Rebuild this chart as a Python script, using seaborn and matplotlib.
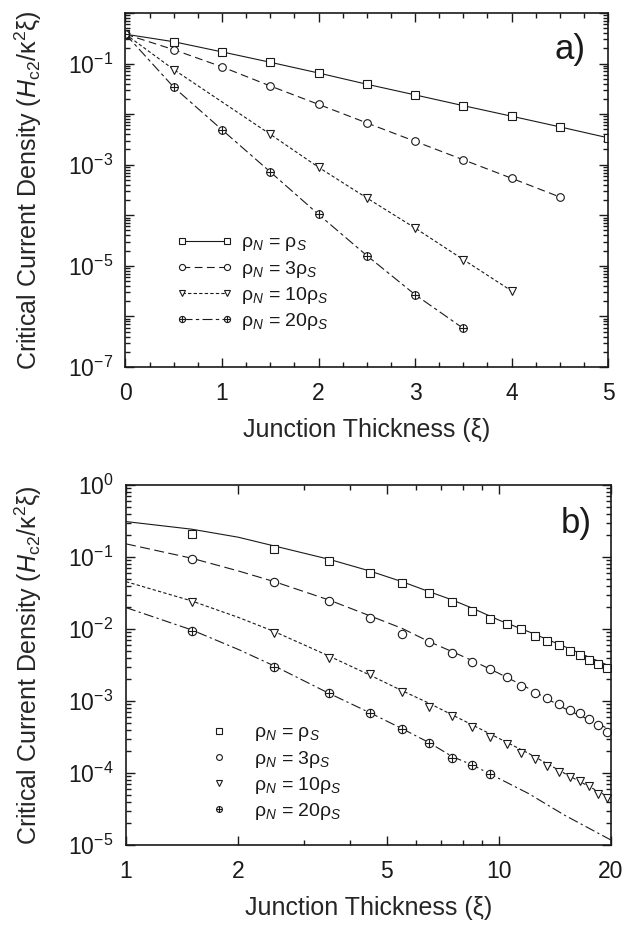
import numpy as np
import pandas as pd
import matplotlib
matplotlib.use("Agg")
import matplotlib.pyplot as plt
import seaborn as sns
from matplotlib.path import Path
from matplotlib.ticker import FixedLocator, MultipleLocator, FuncFormatter, LogLocator, NullFormatter, FixedFormatter

# ---------------- data: panel a (linear x, log y) ----------------
a_x_1 = [0, 0.5, 1, 1.5, 2, 2.5, 3, 3.5, 4, 4.5, 5]
a_y_1 = [0.38, 0.27, 0.17, 0.106, 0.065, 0.039, 0.024, 0.0147, 0.0091, 0.0056, 0.0034]
a_x_3 = [0, 0.5, 1, 1.5, 2, 2.5, 3, 3.5, 4, 4.5]
a_y_3 = [0.38, 0.188, 0.086, 0.036, 0.0156, 0.0067, 0.0029, 0.00125, 0.00054, 0.00023]
a_x_10 = [0, 0.5, 1.5, 2, 2.5, 3, 3.5, 4]
a_y_10 = [0.38, 0.076, 0.0040, 0.00089, 0.00022, 5.6e-5, 1.33e-5, 3.2e-6]
a_x_20 = [0, 0.5, 1, 1.5, 2, 2.5, 3, 3.5]
a_y_20 = [0.38, 0.034, 0.0049, 0.00072, 1.04e-4, 1.6e-5, 2.7e-6, 5.8e-7]

# ---------------- data: panel b (log x, log y) ----------------
b_x_pts = [1.5, 2.5, 3.5, 4.5, 5.5, 6.5, 7.5, 8.5, 9.5, 10.5, 11.5, 12.5,
           13.5, 14.5, 15.5, 16.5, 17.5, 18.5, 19.5]
b_y_pts_1 = [0.210, 0.129, 0.088, 0.059, 0.044, 0.0313, 0.0235, 0.018, 0.0138,
             0.0119, 0.0099, 0.0079, 0.0068, 0.0059, 0.0049, 0.0044, 0.0037,
             0.0033, 0.0029]
b_y_pts_3 = [0.094, 0.0445, 0.0248, 0.0142, 0.0086, 0.0065, 0.0047, 0.0035,
             0.0028, 0.00213, 0.0016, 0.00128, 0.00109, 0.00091, 0.00075,
             0.00067, 0.00056, 0.00046, 0.00037]
b_y_pts_10 = [0.024, 0.0089, 0.0040, 0.00235, 0.00132, 0.00083, 0.000625,
              0.00043, 0.00032, 0.00025, 0.00019, 0.000155, 0.000125,
              0.000102, 8.9e-5, 7.7e-5, 6.5e-5, 5.06e-5, 4.45e-5]
b_x_pts_20 = [1.5, 2.5, 3.5, 4.5, 5.5, 6.5, 7.5, 8.5, 9.5]
b_y_pts_20 = [0.0095, 0.0030, 0.00128, 0.00069, 0.00041, 0.000258, 0.000163,
              0.000129, 9.8e-5]

b_x_curve = [1, 1.5, 2, 2.5, 3.5, 4.5, 5.5, 6.5, 7.5, 8.5, 10, 12, 15, 20]
b_y_curve_1 = [0.31, 0.243, 0.188, 0.142, 0.093, 0.064, 0.0454, 0.033, 0.0253,
               0.0194, 0.0133, 0.0092, 0.0057, 0.0030]
b_y_curve_3 = [0.152, 0.096, 0.064, 0.0454, 0.0253, 0.0153, 0.0102, 0.00667,
               0.00484, 0.00363, 0.00242, 0.0015, 0.00079, 0.000395]
b_y_curve_10 = [0.0454, 0.0245, 0.0145, 0.0092, 0.00422, 0.0023, 0.00139,
                0.00093, 0.00064, 0.000464, 0.000303, 0.000188, 9.9e-5, 4.45e-5]
b_y_curve_20 = [0.0198, 0.0097, 0.0052, 0.00306, 0.00128, 0.00069, 0.000413,
                0.000264, 0.000169, 0.000129, 8.4e-5, 5.2e-5, 2.6e-5, 1.17e-5]

labels = ["ρ$_N$ = ρ$_S$", "ρ$_N$ = 3ρ$_S$", "ρ$_N$ = 10ρ$_S$", "ρ$_N$ = 20ρ$_S$"]
ylabel = "Critical Current Density ($H_{\\mathrm{c2}}$/κ$^{2}$ξ)"
xlabel = "Junction Thickness (ξ)"

# ---------------- style ----------------
sns.set_theme(style="ticks")
plt.rcParams.update({
    "font.family": ["Liberation Sans", "DejaVu Sans"],
    "mathtext.fontset": "custom",
    "mathtext.rm": "Liberation Sans",
    "mathtext.it": "Liberation Sans:italic",
    "mathtext.bf": "Liberation Sans:bold",
    "axes.linewidth": 1.2,
    "axes.edgecolor": "#1a1a1a",
    "text.color": "#1a1a1a",
    "xtick.color": "#1a1a1a",
    "ytick.color": "#1a1a1a",
})

LC = "#1a1a1a"
circ = Path.unit_circle()
cross = Path([(-1, 0), (1, 0), (0, -1), (0, 1)],
             [Path.MOVETO, Path.LINETO, Path.MOVETO, Path.LINETO])
OPLUS = Path.make_compound_path(circ, cross)

markers = ["s", "o", "v", OPLUS]
styles_a = ["-", (0, (7, 4)), (0, (3, 2)), (0, (9, 3, 3, 3))]
styles_b = ["-", (0, (9, 4)), (0, (3, 2)), (0, (9, 3, 2, 3))]


def style_axes(ax):
    ax.tick_params(which="both", direction="in", top=True, right=True,
                   width=1.0, colors=LC)
    ax.tick_params(which="major", length=6.5, labelsize=16.5)
    ax.tick_params(which="minor", length=3.6)
    ax.tick_params(axis="x", which="both", pad=10.5)
    ax.tick_params(axis="y", which="both", pad=9)
    for s in ax.spines.values():
        s.set_visible(True)
        s.set_linewidth(1.2)


def sci(v, pos, odd_only=False):
    e = int(round(np.log10(v)))
    if odd_only and e % 2 == 0:
        return ""
    return r"$\mathdefault{10^{%d}}$" % e


fig = plt.figure(figsize=(6.38, 9.26), dpi=100)

# ---------------- panel a ----------------
axa = fig.add_axes([0.1967, 0.6037, 0.7563, 0.3823])
axa.set_yscale("log")
a_sets = [(a_x_1, a_y_1), (a_x_3, a_y_3), (a_x_10, a_y_10), (a_x_20, a_y_20)]
handles_a = []
for (xs, ys), m, ls in zip(a_sets, markers, styles_a):
    df = pd.DataFrame({"x": xs, "y": ys})
    sns.lineplot(data=df, x="x", y="y", ax=axa, color=LC, estimator=None,
                 sort=False, legend=False, linewidth=0.8, linestyle=ls,
                 marker=m, markersize=5.5, markerfacecolor="white",
                 markeredgecolor=LC, markeredgewidth=0.8)
    handles_a.append(axa.lines[-1])
axa.set_xlim(0, 5)
axa.set_ylim(1e-7, 1)
axa.xaxis.set_major_locator(MultipleLocator(1))
axa.xaxis.set_minor_locator(MultipleLocator(0.25))
axa.yaxis.set_major_locator(FixedLocator([10.0 ** e for e in range(-7, 1)]))
axa.yaxis.set_major_formatter(FuncFormatter(lambda v, p: sci(v, p, True)))
axa.yaxis.set_minor_locator(LogLocator(base=10, subs=np.arange(2, 10), numticks=20))
axa.yaxis.set_minor_formatter(NullFormatter())
style_axes(axa)
axa.set_xlabel(xlabel, fontsize=18)
axa.set_ylabel(ylabel, fontsize=18)
axa.xaxis.set_label_coords(0.5, -0.143)
axa.yaxis.set_label_coords(-0.169, 0.5)
axa.text(0.921, 0.898, "a)", transform=axa.transAxes, fontsize=25,
         ha="center", va="center")
axa.legend(handles=handles_a, labels=labels, loc="upper left",
           bbox_to_anchor=(0.105, 0.376), frameon=False, fontsize=14,
           numpoints=2, markerscale=0.8, handlelength=2.92, handletextpad=0.41,
           labelspacing=0.27, borderpad=0, borderaxespad=0)

# ---------------- panel b ----------------
axb = fig.add_axes([0.1975, 0.0875, 0.7602, 0.3888])
axb.set_xscale("log")
axb.set_yscale("log")
curves = [b_y_curve_1, b_y_curve_3, b_y_curve_10, b_y_curve_20]
for yc, ls in zip(curves, styles_b):
    dfc = pd.DataFrame({"x": b_x_curve, "y": yc})
    sns.lineplot(data=dfc, x="x", y="y", ax=axb, color=LC, estimator=None,
                 sort=False, legend=False, linewidth=0.8, linestyle=ls)
b_sets = [(b_x_pts, b_y_pts_1), (b_x_pts, b_y_pts_3), (b_x_pts, b_y_pts_10),
          (b_x_pts_20, b_y_pts_20)]
handles_b = []
for (xs, ys), m in zip(b_sets, markers):
    dfp = pd.DataFrame({"x": xs, "y": ys})
    sns.lineplot(data=dfp, x="x", y="y", ax=axb, color=LC, estimator=None,
                 sort=False, legend=False, linestyle="none", marker=m,
                 markersize=6.0, markerfacecolor="white", markeredgecolor=LC,
                 markeredgewidth=0.8)
    handles_b.append(axb.lines[-1])
axb.set_xlim(1, 20)
axb.set_ylim(1e-5, 1)
axb.xaxis.set_major_locator(FixedLocator([1, 2, 5, 10, 20]))
axb.xaxis.set_major_formatter(FixedFormatter(["1", "2", "5", "10", "20"]))
axb.xaxis.set_minor_locator(FixedLocator([3, 4, 6, 7, 8, 9]))
axb.xaxis.set_minor_formatter(NullFormatter())
axb.yaxis.set_major_locator(FixedLocator([10.0 ** e for e in range(-5, 1)]))
axb.yaxis.set_major_formatter(FuncFormatter(lambda v, p: sci(v, p, False)))
axb.yaxis.set_minor_locator(LogLocator(base=10, subs=np.arange(2, 10), numticks=20))
axb.yaxis.set_minor_formatter(NullFormatter())
style_axes(axb)
axb.set_xlabel(xlabel, fontsize=18)
axb.set_ylabel(ylabel, fontsize=18)
axb.xaxis.set_label_coords(0.5, -0.1406)
axb.yaxis.set_label_coords(-0.169, 0.5)
axb.text(0.928, 0.892, "b)", transform=axb.transAxes, fontsize=25,
         ha="center", va="center")
axb.legend(handles=handles_b, labels=labels, loc="upper left",
           bbox_to_anchor=(0.1518, 0.3367), frameon=False, fontsize=14,
           numpoints=1, markerscale=0.7, handlelength=2.0, handletextpad=0.8,
           labelspacing=0.27, borderpad=0, borderaxespad=0)

fig.savefig("out.png", dpi=100)
